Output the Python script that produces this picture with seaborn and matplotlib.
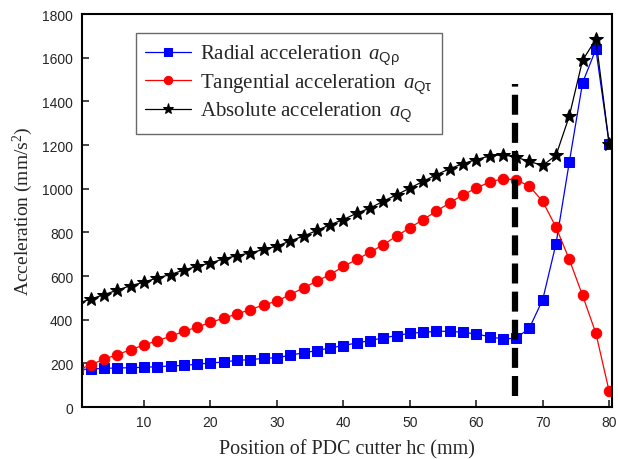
import numpy as np
import pandas as pd
import matplotlib
matplotlib.use("Agg")
import matplotlib.pyplot as plt
import seaborn as sns

# positions of the cutter (mm)
positions = list(range(0, 82, 2))

radial = [172, 174, 177, 179, 180, 182, 185, 188, 191, 196, 202,
          206, 214, 217, 223, 226, 237, 249, 258, 271, 281,
          294, 304, 317, 327, 338, 342, 347, 347, 342, 335,
          322, 312, 315, 362, 492, 748, 1122, 1486, 1639, 1206]

tangential = [170, 193, 220, 240, 263, 284, 304, 324, 347, 366, 388,
              407, 427, 446, 468, 485, 515, 546, 577, 607, 644,
              676, 709, 744, 783, 821, 859, 897, 936, 972, 1003,
              1031, 1046, 1041, 1012, 942, 824, 676, 511, 338, 72]

absolute = [475, 495, 515, 536, 556, 572, 592, 607, 628, 645, 660,
            679, 694, 706, 722, 737, 761, 783, 809, 835, 859,
            888, 911, 943, 972, 1003, 1034, 1064, 1092, 1115, 1134,
            1150, 1156, 1145, 1125, 1107, 1153, 1333, 1589, 1685, 1206]

labels = [r"Radial acceleration $\,a_{\mathsf{Q\rho}}$",
          r"Tangential acceleration $\,a_{\mathsf{Q\tau}}$",
          r"Absolute acceleration $\,a_{\mathsf{Q}}$"]

boundary_x = 65.8
boundary_y = [50, 1480]

sns.set_style("ticks")
plt.rcParams["font.family"] = ["Liberation Sans", "DejaVu Sans"]
plt.rcParams["mathtext.fontset"] = "custom"
plt.rcParams["mathtext.rm"] = "Liberation Serif"
plt.rcParams["mathtext.it"] = "Liberation Serif:italic"
plt.rcParams["mathtext.sf"] = "Liberation Sans"
plt.rcParams["mathtext.cal"] = "Liberation Serif"

df = pd.DataFrame({"x": positions, "radial": radial,
                   "tangential": tangential, "absolute": absolute})

fig = plt.figure(figsize=(6.18, 4.6), dpi=100)
ax = fig.add_axes([0.132, 0.113, 0.858, 0.854])

sns.lineplot(data=df, x="x", y="radial", ax=ax, color="blue", marker="s",
             markersize=6.5, markeredgecolor="blue", linewidth=0.9, label=labels[0])
sns.lineplot(data=df, x="x", y="tangential", ax=ax, color="red", marker="o",
             markersize=7.5, markeredgecolor="red", linewidth=0.9, label=labels[1])
sns.lineplot(data=df, x="x", y="absolute", ax=ax, color="black", marker="*",
             markersize=10, markeredgecolor="black", linewidth=0.9, label=labels[2])

ax.plot([boundary_x, boundary_x], boundary_y, color="black", linewidth=4.5,
        linestyle=(0, (3.2, 1.3)))

ax.set_xlim(0.6, 80.4)
ax.set_ylim(0, 1800)
ax.set_xticks(range(10, 90, 10))
ax.set_yticks(range(0, 2000, 200))
ax.tick_params(direction="in", length=5, width=1.2, labelsize=10, pad=6)
for s in ax.spines.values():
    s.set_visible(True)
    s.set_linewidth(1.5)
    s.set_color("black")

ax.set_xlabel("Position of PDC cutter hc (mm)", family="Liberation Serif",
              fontsize=14.5, labelpad=7)
ax.set_ylabel(r"Acceleration (mm/s$^2$)", family="Liberation Serif",
              fontsize=14, labelpad=5)

leg = ax.legend(loc="upper left", bbox_to_anchor=(0.083, 0.978),
                prop={"family": "Liberation Serif", "size": 15},
                frameon=True, fancybox=False, edgecolor="#444444",
                handlelength=2.2, handletextpad=0.4, labelspacing=0.22,
                borderpad=0.45, markerscale=0.8)
leg.get_frame().set_linewidth(1.0)

fig.savefig("out.png", dpi=100)
